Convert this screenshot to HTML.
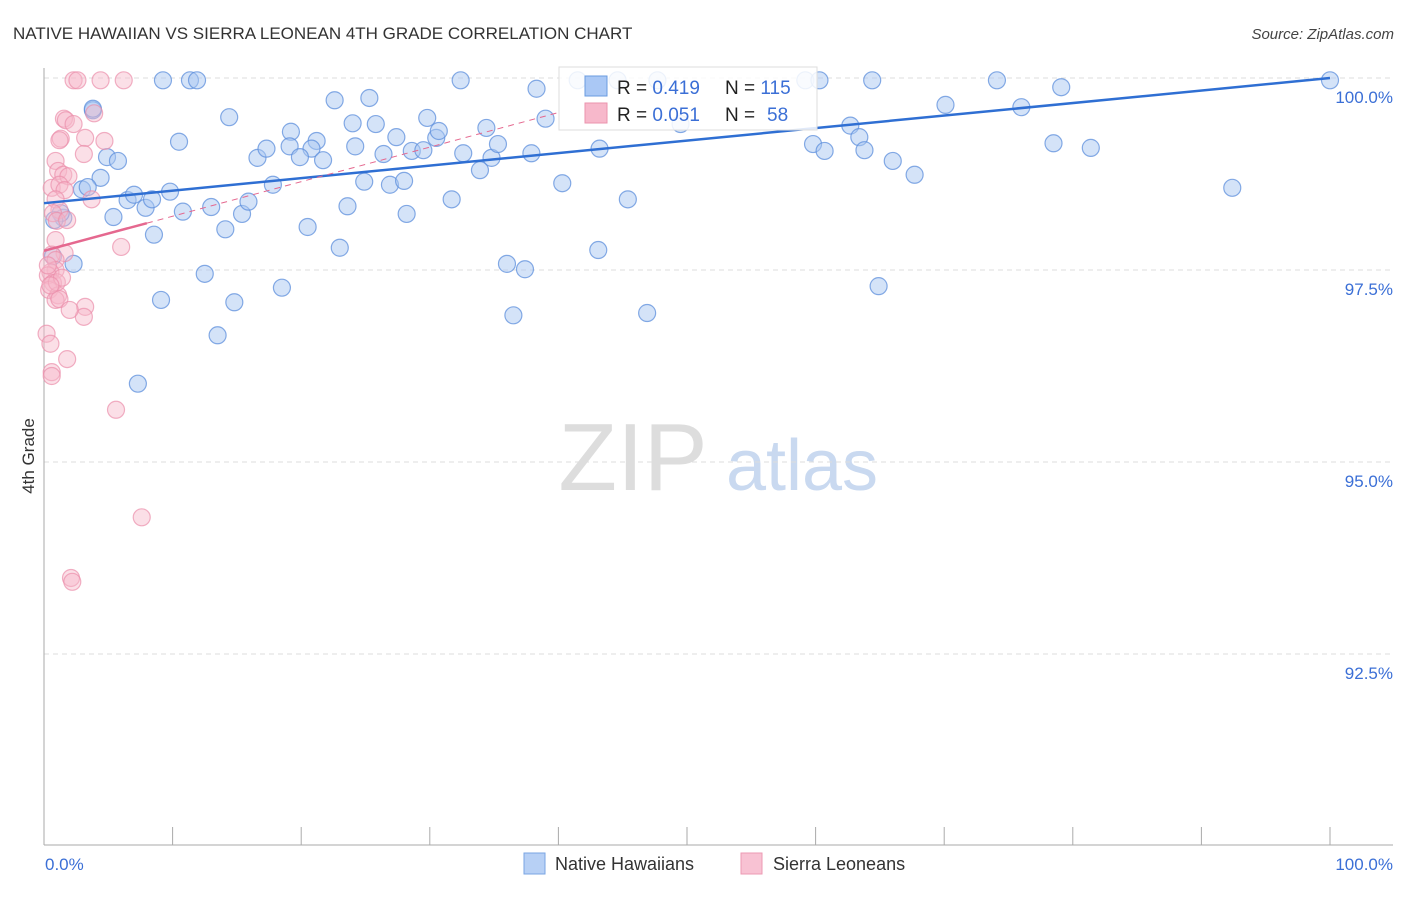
<!DOCTYPE html>
<html><head><meta charset="utf-8"><style>
body{margin:0;background:#fff;font-family:"Liberation Sans",sans-serif;}
svg text{font-family:"Liberation Sans",sans-serif;}
</style></head><body>
<svg id="chart" width="1406" height="892" xmlns="http://www.w3.org/2000/svg">
<text x="13" y="39" font-size="17" fill="#333">NATIVE HAWAIIAN VS SIERRA LEONEAN 4TH GRADE CORRELATION CHART</text>
<text x="1394" y="39" font-size="15" fill="#444" text-anchor="end" font-style="italic">Source: ZipAtlas.com</text>
<g>
<text x="633" y="490" font-size="96" fill="#ddd" font-family="Liberation Serif, serif" text-anchor="middle">ZIP</text>
<text x="802" y="490" font-size="72" fill="#c9d9f0" text-anchor="middle">atlas</text>
</g>
<g id="grid"></g>
<g id="axes"></g>
<g id="pts"></g>
<g id="trend"></g>
<text transform="translate(34,456) rotate(-90)" font-size="17" fill="#333" text-anchor="middle">4th Grade</text>
<text x="45" y="870" font-size="17" fill="#3b6fd6">0.0%</text>
<text x="1393" y="870" font-size="17" fill="#3b6fd6" text-anchor="end">100.0%</text>
<g>
<rect x="559" y="67" width="258" height="63" fill="#fff" fill-opacity="0.85" stroke="#ddd"/>
<rect x="585" y="76" width="22" height="20" fill="#aac8f5" stroke="#6a9be0"/>
<rect x="585" y="103" width="22" height="20" fill="#f7b8cb" stroke="#eb93ae"/>
<text x="617" y="94" font-size="19" fill="#222">R = <tspan fill="#3b6fd6">0.419</tspan><tspan x="725">N = </tspan><tspan fill="#3b6fd6">115</tspan></text>
<text x="617" y="121" font-size="19" fill="#222">R = <tspan fill="#3b6fd6">0.051</tspan><tspan x="725">N = </tspan><tspan x="767" fill="#3b6fd6">58</tspan></text>
</g>
<g>
<rect x="524" y="853" width="21" height="21" fill="#b7d0f5" stroke="#7aa5e3"/>
<text x="555" y="870" font-size="18" fill="#333">Native Hawaiians</text>
<rect x="741" y="853" width="21" height="21" fill="#f8c2d3" stroke="#ec9ab3"/>
<text x="773" y="870" font-size="18" fill="#333">Sierra Leoneans</text>
</g>
</svg>
<script>
const yTicks=[100,97.5,95,92.5];
const yTickLabels=["100.0%","97.5%","95.0%","92.5%"];
const xTicks=[0,10,20,30,40,50,60,70,80,90,100];
const blueX=[9.25,11.35,11.9,32.4,41.5,44.6,47.7,59.2,60.3,64.4,74.1,100,79.1,38.3,22.6,25.3,3.8,14.4,29.8,70.1,76.0,39.0,24.0,25.8,49.5,10.5,19.2,21.2,27.4,30.5,30.7,34.4,62.7,63.4,16.6,17.3,19.1,20.8,19.9,21.7,24.2,26.4,28.6,29.5,32.6,34.8,35.3,37.9,43.2,59.8,60.7,63.8,66.0,78.5,81.4,4.9,5.75,4.4,2.95,3.4,1.5,5.4,6.5,7.0,7.9,9.8,10.8,13.0,15.4,15.9,14.1,17.8,20.5,23.0,23.6,24.9,26.9,28.0,28.2,31.7,33.9,40.3,45.4,67.7,92.4,8.55,0.7,2.3,12.5,18.5,9.1,14.8,13.5,36.0,37.4,43.1,36.5,46.9,64.9,7.3,1.3,0.8,8.4,3.8];
const blueY=[99.97,99.97,99.97,99.97,99.97,99.97,99.97,99.97,99.97,99.97,99.97,99.97,99.88,99.86,99.71,99.74,99.58,99.49,99.48,99.65,99.62,99.47,99.41,99.40,99.40,99.17,99.30,99.18,99.23,99.22,99.31,99.35,99.38,99.23,98.96,99.08,99.11,99.08,98.97,98.93,99.11,99.01,99.05,99.06,99.02,98.96,99.14,99.02,99.08,99.14,99.05,99.06,98.92,99.15,99.09,98.97,98.92,98.70,98.55,98.58,98.18,98.19,98.41,98.48,98.31,98.52,98.26,98.32,98.23,98.39,98.03,98.61,98.06,97.79,98.33,98.65,98.61,98.66,98.23,98.42,98.80,98.63,98.42,98.74,98.57,97.96,97.68,97.58,97.45,97.27,97.11,97.08,96.65,97.58,97.51,97.76,96.91,96.94,97.29,96.02,98.24,98.15,98.42,99.6];
const pinkX=[2.3,2.6,4.4,6.2,3.9,1.55,1.7,2.3,1.3,1.2,3.2,4.7,3.1,0.9,1.1,1.5,1.9,0.6,1.2,1.6,3.7,0.9,1.2,0.7,1.0,1.8,0.9,1.6,6.0,0.6,0.9,0.9,0.5,0.3,0.7,0.4,1.1,0.9,1.2,3.2,3.1,1.0,1.4,0.2,0.5,1.8,0.6,0.6,5.6,7.6,2.1,2.2,0.3,0.5,2.0];
const pinkY=[99.97,99.97,99.97,99.97,99.54,99.47,99.45,99.40,99.21,99.19,99.22,99.18,99.01,98.92,98.79,98.74,98.72,98.57,98.61,98.54,98.42,98.42,98.28,98.24,98.14,98.15,97.89,97.72,97.80,97.70,97.63,97.50,97.47,97.43,97.33,97.24,97.17,97.11,97.12,97.02,96.89,97.34,97.40,96.67,96.54,96.34,96.17,96.12,95.68,94.28,93.49,93.44,97.56,97.30,96.98];
const blueTrend=[98.37,100];
const pinkTrend=[97.75,0.045];

const NS="http://www.w3.org/2000/svg";
const X=v=>44+v*12.86;
const Y=v=>78+(100-v)*76.8;
function mk(tag,attrs,parent){const e=document.createElementNS(NS,tag);for(const k in attrs)e.setAttribute(k,attrs[k]);document.getElementById(parent).appendChild(e);return e;}
yTicks.forEach((t,i)=>{
 const l=mk('line',{x1:44,x2:1393,y1:Y(t),y2:Y(t),stroke:'#ddd','stroke-dasharray':'5,4'},'grid');
 
 
 const tx=mk('text',{x:1393,y:Y(t)+25,'font-size':17,fill:'#3b6fd6','text-anchor':'end'},'grid');
 tx.textContent=yTickLabels[i];
 
 
});
let a=mk('line',{x1:44,x2:44,y1:68,y2:845,stroke:'#aaa'},'axes');


a=mk('line',{x1:44,x2:1393,y1:845,y2:845,stroke:'#aaa'},'axes');


xTicks.forEach(t=>{const k=mk('line',{x1:X(t),x2:X(t),y1:827,y2:845,stroke:'#aaa'},'axes');
 
 });
blueX.forEach((x,i)=>{const c=mk('circle',{cx:X(x),cy:Y(blueY[i]),r:8.5,fill:'#a9c7f2','fill-opacity':0.5,stroke:'#5d8fdc','stroke-opacity':0.75,'stroke-width':1.2},'pts');
 
 });
pinkX.forEach((x,i)=>{const c=mk('circle',{cx:X(x),cy:Y(pinkY[i]),r:8.5,fill:'#f6b7ca','fill-opacity':0.45,stroke:'#eb8fab','stroke-opacity':0.7,'stroke-width':1.2},'pts');
 
 });
let t=mk('line',{x1:X(0),y1:Y(blueTrend[0]),x2:X(100),y2:Y(blueTrend[1]),stroke:'#2f6fd3','stroke-width':2.5},'trend');


t=mk('line',{x1:X(8),y1:Y(pinkTrend[0]+pinkTrend[1]*8),x2:X(40),y2:Y(pinkTrend[0]+pinkTrend[1]*40),stroke:'#e5688f','stroke-width':1,'stroke-dasharray':'6,5'},'trend');


t=mk('line',{x1:X(0),y1:Y(pinkTrend[0]),x2:X(8),y2:Y(pinkTrend[0]+pinkTrend[1]*8),stroke:'#e5688f','stroke-width':2.5},'trend');


</script>
</body></html>
